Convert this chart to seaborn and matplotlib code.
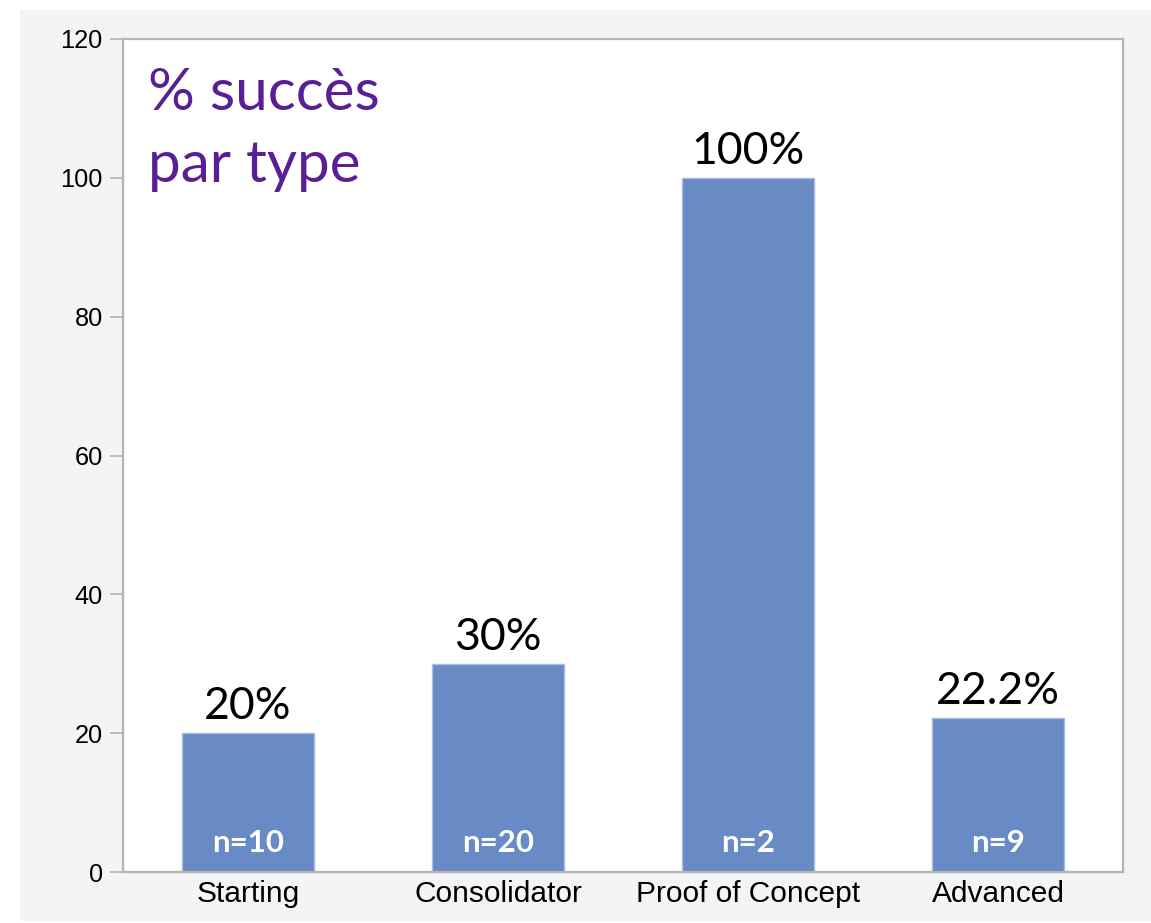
import matplotlib
matplotlib.use("Agg")
import matplotlib.pyplot as plt
from matplotlib.patches import Rectangle
import seaborn as sns
import pandas as pd

# data
types = ['Starting', 'Consolidator', 'Proof of Concept', 'Advanced']
success = [20, 30, 100, 22.2]
value_labels = ['20%', '30%', '100%', '22.2%']
n_labels = ['n=10', 'n=20', 'n=2', 'n=9']

df = pd.DataFrame({'type': types, 'success': success})

sns.set_style('white')
plt.rcParams['font.family'] = ['Liberation Sans', 'DejaVu Sans']

fig = plt.figure(figsize=(11.51, 9.23), dpi=100)
fig.patch.set_facecolor('white')
# light grey panel behind the chart
fig.patches.append(Rectangle((20 / 1151, 2 / 923), 1.0, 911 / 923,
                             transform=fig.transFigure, facecolor='#f4f4f4',
                             edgecolor='none', zorder=-10))

ax = fig.add_axes([123 / 1151, 51 / 923, 1000 / 1151, 833 / 923])
ax.set_zorder(1)
ax.set_facecolor('white')

sns.barplot(data=df, x='type', y='success', color='#698bc5', saturation=1,
            width=0.53, edgecolor='#a9bde0', linewidth=1, ax=ax)

ax.set_xlim(-0.5, 3.5)
ax.set_ylim(0, 120)
ax.set_yticks(range(0, 121, 20))
ax.set_xlabel('')
ax.set_ylabel('')

for s in ax.spines.values():
    s.set_visible(True)
    s.set_color('#b4b4b4')
    s.set_linewidth(1.6)

ax.tick_params(axis='y', length=9.5, width=1.2, color='#b4b4b4', pad=5,
               labelsize=18.3, labelcolor='black', left=True)
ax.tick_params(axis='x', length=0, pad=6, labelsize=21.5, labelcolor='black')

# percentages over the bars
for i, (v, lab) in enumerate(zip(success, value_labels)):
    ax.annotate(lab, (i, v), xytext=(0, 10), textcoords='offset points',
                ha='center', va='baseline', fontsize=32, family='Lato',
                color='black')

# sample sizes inside the bars
for i, lab in enumerate(n_labels):
    ax.text(i, 2.9, lab, ha='center', va='baseline', fontsize=22.5,
            family='Lato', fontweight='bold', color='white')

# title in the corner
ax.text(0.025, 0.915, '% succès', transform=ax.transAxes, fontsize=42,
        family='Lato', color='#581f96', va='baseline')
ax.text(0.025, 0.828, 'par type', transform=ax.transAxes, fontsize=42,
        family='Lato', color='#581f96', va='baseline')

fig.savefig('out.png', dpi=100)
